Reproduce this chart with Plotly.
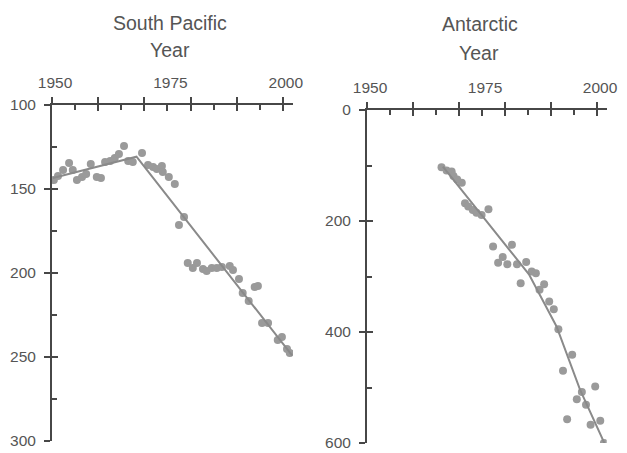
import plotly.graph_objects as go

# ---------------- data ----------------
sp_year = [1950.4, 1951.3, 1952.4, 1953.7, 1954.5, 1955.4, 1956.5, 1957.4, 1958.4, 1959.7,
           1960.6, 1961.5, 1962.6, 1963.6, 1964.5, 1965.6, 1966.5, 1967.5, 1969.5, 1970.8,
           1971.9, 1972.7, 1973.8, 1974.0, 1975.3, 1976.6, 1977.5, 1978.6, 1979.4, 1980.5,
           1981.4, 1982.7, 1983.5, 1984.6, 1985.7, 1986.8, 1988.5, 1989.2, 1990.5, 1991.3,
           1992.6, 1993.9, 1994.6, 1995.5, 1996.8, 1998.9, 1999.8, 2000.9, 2001.5]
sp_val = [144.6, 142.3, 138.7, 134.5, 138.7, 144.6, 142.9, 141.1, 135.1, 142.9,
          143.5, 133.9, 133.3, 131.5, 129.2, 124.4, 133.3, 133.9, 128.6, 135.7,
          136.9, 138.1, 136.3, 139.9, 142.9, 147.0, 171.4, 166.7, 194.0, 197.0,
          194.0, 197.6, 198.8, 197.0, 197.0, 196.4, 195.8, 198.2, 203.6, 211.9,
          216.7, 208.3, 207.7, 229.8, 229.8, 239.9, 238.1, 245.2, 247.6]
sp_fit_year = [1950.2, 1968.3, 2002.0]
sp_fit_val = [143.5, 130.8, 249.0]

an_year = [1966.2, 1967.3, 1968.4, 1968.8, 1969.6, 1970.6, 1971.3, 1972.0, 1973.0, 1973.8,
           1974.9, 1976.4, 1977.4, 1978.5, 1979.5, 1980.5, 1981.5, 1982.6, 1983.4, 1984.6,
           1985.8, 1986.7, 1987.5, 1988.5, 1989.6, 1990.6, 1991.6, 1992.6, 1993.5, 1994.6,
           1995.6, 1996.7, 1997.6, 1998.6, 1999.6, 2000.7, 2001.5]
an_val = [103, 109, 111, 119, 125, 131, 168, 174, 180, 185,
          189, 179, 246, 275, 265, 278, 243, 278, 312, 274,
          291, 294, 324, 314, 345, 359, 395, 470, 557, 441,
          521, 508, 531, 567, 498, 560, 600]
an_fit_year = [1966.5, 1985.2, 1991.2, 1996.3, 2001.7]
an_fit_val = [102, 296, 390, 504, 602]

x_major = [1950, 1960, 1970, 1980, 1990, 2000]
x_minor = [1955, 1965, 1975, 1985, 1995]
x_label_vals = [1950, 1960, 1970, 1975, 1980, 1990, 2000]
x_label_text = ["1950", "", "", "1975", "", "", "2000"]

sp_y_major = [100, 150, 200, 250, 300]
sp_y_minor = [125, 175, 225, 275]
an_y_major = [0, 200, 400, 600]
an_y_minor = [100, 300, 500]

# ---------------- style ----------------
AX = "#474747"
TXT = "#555555"
DOT = "#9a9a9a"
LINE = "#8a8a8a"
FONT = "Liberation Sans"
W, H = 627, 453

fig = go.Figure()
fig.add_trace(go.Scatter(x=sp_year, y=sp_val, mode="markers", xaxis="x", yaxis="y",
                         marker=dict(size=8, color=DOT), showlegend=False))
fig.add_trace(go.Scatter(x=sp_fit_year, y=sp_fit_val, mode="lines", xaxis="x", yaxis="y",
                         line=dict(color=LINE, width=2), showlegend=False))
fig.add_trace(go.Scatter(x=an_year, y=an_val, mode="markers", xaxis="x2", yaxis="y2",
                         marker=dict(size=8, color=DOT), showlegend=False))
fig.add_trace(go.Scatter(x=an_fit_year, y=an_fit_val, mode="lines", xaxis="x2", yaxis="y2",
                         line=dict(color=LINE, width=2), showlegend=False))
# empty traces to activate overlay axes (inner half of crossing ticks + labels)
fig.add_trace(go.Scatter(x=[], y=[], xaxis="x3", yaxis="y3", showlegend=False, hoverinfo="skip"))
fig.add_trace(go.Scatter(x=[], y=[], xaxis="x4", yaxis="y4", showlegend=False, hoverinfo="skip"))

tickfont = dict(family=FONT, size=15.5, color=TXT)


def xmain(domain, rng, anchor):
    return dict(domain=domain, range=rng, autorange=False, side="top", anchor=anchor,
                automargin=False,
                showline=True, linecolor=AX, linewidth=2, showgrid=False, zeroline=False,
                tickmode="array", tickvals=x_major, ticks="outside", ticklen=6, tickwidth=2,
                tickcolor=AX, showticklabels=False, fixedrange=True,
                minor=dict(tickmode="array", tickvals=x_minor, ticks="inside", ticklen=5,
                           tickwidth=2, tickcolor=AX, showgrid=False))


def xover(over, rng, anchor):
    return dict(overlaying=over, range=rng, autorange=False, side="top", anchor=anchor,
                automargin=False,
                showline=False, showgrid=False, zeroline=False, tickmode="array",
                tickvals=x_label_vals, ticktext=x_label_text, ticks="inside", ticklen=6,
                tickwidth=2, tickcolor=AX, tickfont=tickfont, ticklabelstandoff=13,
                ticklabelshift=3, fixedrange=True)


def ymain(domain, rng, anchor, major, minor):
    return dict(domain=domain, range=rng, autorange=False, side="left", anchor=anchor,
                automargin=False,
                showline=True, linecolor=AX, linewidth=2, showgrid=False, zeroline=False,
                tickmode="array", tickvals=major, ticks="outside", ticklen=6, tickwidth=2,
                tickcolor=AX, tickfont=tickfont, ticklabelstandoff=5, fixedrange=True,
                minor=dict(tickmode="array", tickvals=minor, ticks="inside", ticklen=5,
                           tickwidth=2, tickcolor=AX, showgrid=False))


def yover(over, rng, anchor, major):
    return dict(overlaying=over, range=rng, autorange=False, side="left", anchor=anchor,
                automargin=False,
                showline=False, showgrid=False, zeroline=False, tickmode="array",
                tickvals=major, ticks="inside", ticklen=6, tickwidth=2, tickcolor=AX,
                showticklabels=False, fixedrange=True)


sp_xr = [1950, 2002.2]
an_xr = [1950, 2002.1]
sp_yr = [300, 100]
an_yr = [600, 0]
dom_x1 = [52 / W, 293 / W]
dom_y1 = [1 - 441 / H, 1 - 105 / H]
dom_x2 = [367 / W, 606.7 / W]
dom_y2 = [1 - 443 / H, 1 - 110 / H]

fig.update_layout(
    width=W, height=H,
    margin=dict(l=0, r=0, t=0, b=0, autoexpand=False),
    paper_bgcolor="white", plot_bgcolor="white",
    font=dict(family=FONT, color=TXT),
    showlegend=False,
    xaxis=xmain(dom_x1, sp_xr, "y"),
    yaxis=ymain(dom_y1, sp_yr, "x", sp_y_major, sp_y_minor),
    xaxis2=xmain(dom_x2, an_xr, "y2"),
    yaxis2=ymain(dom_y2, an_yr, "x2", an_y_major, an_y_minor),
    xaxis3=xover("x", sp_xr, "y"),
    yaxis3=yover("y", sp_yr, "x", sp_y_major),
    xaxis4=xover("x2", an_xr, "y2"),
    yaxis4=yover("y2", an_yr, "x2", an_y_major),
)

titles = [("South Pacific", 170, 23), ("Year", 170, 50),
          ("Antarctic", 479.5, 24), ("Year", 479, 53)]
for txt, px, py in titles:
    fig.add_annotation(text=txt, x=px / W, y=1 - py / H, xref="paper", yref="paper",
                       showarrow=False, xanchor="center", yanchor="middle",
                       font=dict(family=FONT, size=19.5, color=TXT))

fig.write_html("out.html", config={"displayModeBar": False},
               post_script="document.body.style.margin='0px';document.body.style.overflow='hidden';")
